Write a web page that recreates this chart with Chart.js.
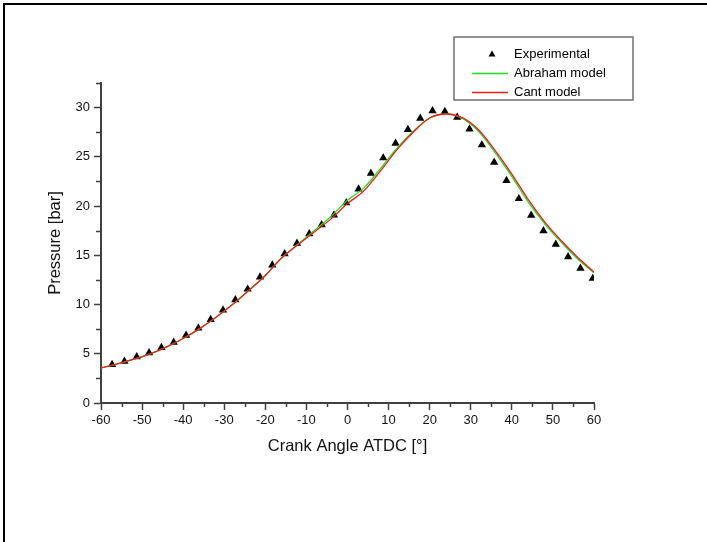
<!DOCTYPE html>
<html>
<head>
<meta charset="utf-8">
<title>Pressure vs Crank Angle</title>
<script src="https://cdn.jsdelivr.net/npm/chart.js@4.4.1/dist/chart.umd.min.js"></script>
<style>
  html, body { margin: 0; padding: 0; background: #fff; }
  #wrap { position: relative; width: 707px; height: 542px; overflow: hidden; }
  #pressureChart { position: absolute; left: 0; top: 0; }
  #frame {
    position: absolute; left: 3px; top: 3px; width: 800px; height: 600px;
    border-left: 2px solid #000; border-top: 2px solid #000; pointer-events: none;
  }
</style>
</head>
<body>
<div id="wrap">
  <canvas id="pressureChart" width="707" height="542"></canvas>
  <div id="frame"></div>
</div>
<script>
(function () {
    "use strict";

    // measured points (crank angle in deg, pressure in bar)
    var expAngle = [-57.3, -54.3, -51.3, -48.3, -45.3, -42.3, -39.3, -36.3, -33.3, -30.3,
                    -27.3, -24.3, -21.3, -18.3, -15.3, -12.3, -9.3, -6.3, -3.3, -0.3,
                    2.7, 5.7, 8.7, 11.7, 14.7, 17.7, 20.7, 23.7, 26.7, 29.7,
                    32.7, 35.7, 38.7, 41.7, 44.7, 47.7, 50.7, 53.7, 56.7, 59.7];
    var expPressure = [3.90, 4.24, 4.68, 5.09, 5.63, 6.17, 6.88, 7.60, 8.48, 9.43,
                       10.48, 11.56, 12.78, 14.00, 15.15, 16.21, 17.19, 18.10, 19.09, 20.34,
                       21.73, 23.33, 24.89, 26.38, 27.76, 28.92, 29.67, 29.59, 29.02, 27.83,
                       26.21, 24.45, 22.58, 20.75, 19.06, 17.49, 16.11, 14.85, 13.67, 12.65];

    // model curves
    var modelAngle = [-60, -56, -52, -48, -44, -40, -36, -32, -28, -24, -20, -16, -12, -8, -4, 0,
                      4, 8, 12, 16, 20, 24, 28, 32, 36, 40, 44, 48, 52, 56, 60];
    var abrahamPressure = [3.56, 3.97, 4.45, 5.0, 5.7, 6.55, 7.55, 8.7, 10.0, 11.45, 12.95, 14.75,
                           16.15, 17.55, 18.95, 20.6, 21.85, 23.8, 25.85, 27.6, 28.95, 29.35,
                           28.9, 27.55, 25.4, 23.0, 20.4, 18.2, 16.35, 14.65, 13.2];
    var cantPressure = [3.56, 3.97, 4.45, 5.0, 5.7, 6.55, 7.55, 8.7, 10.0, 11.45, 12.95, 14.75,
                        16.1, 17.4, 18.7, 20.25, 21.55, 23.55, 25.7, 27.5, 28.95, 29.35,
                        28.95, 27.7, 25.6, 23.25, 20.65, 18.4, 16.5, 14.8, 13.3];

    var seriesLabels = ["Experimental", "Abraham model", "Cant model"];
    var xTitle = "Crank Angle ATDC [\u00b0]";
    var yTitle = "Pressure [bar]";

    var FONT = "'Liberation Sans', Arial, sans-serif";
    var AXIS_COLOR = "#404040";

    function toPoints(xs, ys) {
        return xs.map(function (x, i) { return { x: x, y: ys[i] }; });
    }

    // short ticks between the labelled ones
    var minorTicks = {
        id: "minorTicks",
        afterDraw: function (chart) {
            var c = chart.ctx;
            var xs = chart.scales.x;
            var ys = chart.scales.y;
            c.save();
            c.strokeStyle = AXIS_COLOR;
            c.lineWidth = 1.5;
            xs.ticks.forEach(function (t) {
                if (t.value % 10 === 0) return;
                var px = Math.round(xs.getPixelForValue(t.value)) + 0.5;
                c.beginPath();
                c.moveTo(px, xs.top);
                c.lineTo(px, xs.top + 4);
                c.stroke();
            });
            ys.ticks.forEach(function (t) {
                if (t.value % 5 === 0) return;
                var py = Math.round(ys.getPixelForValue(t.value)) + 0.5;
                c.beginPath();
                c.moveTo(ys.right, py);
                c.lineTo(ys.right - 5, py);
                c.stroke();
            });
            c.restore();
        }
    };

    // boxed legend in the top right corner
    var boxedLegend = {
        id: "boxedLegend",
        afterDraw: function (chart) {
            var c = chart.ctx;
            var sets = chart.data.datasets;
            var left = 454, top = 37, right = 633, bottom = 100;
            var rows = [54, 73.5, 92.5];
            c.save();
            c.strokeStyle = "#707070";
            c.lineWidth = 1.5;
            c.strokeRect(left, top, right - left, bottom - top);

            c.font = "13px " + FONT;
            c.textBaseline = "middle";
            c.textAlign = "left";
            sets.forEach(function (ds, i) {
                var y = rows[i];
                if (ds.showLine) {
                    c.strokeStyle = ds.borderColor;
                    c.lineWidth = ds.borderWidth;
                    c.beginPath();
                    c.moveTo(472, y);
                    c.lineTo(508, y);
                    c.stroke();
                } else {
                    c.fillStyle = ds.backgroundColor;
                    c.beginPath();
                    c.moveTo(492, y - 3.5);
                    c.lineTo(495.5, y + 2.5);
                    c.lineTo(488.5, y + 2.5);
                    c.closePath();
                    c.fill();
                }
                c.fillStyle = "#000";
                c.fillText(ds.label, 514, y);
            });
            c.restore();
        }
    };

    function majorTickColor(step) {
        return function (ctx) {
            return ctx.tick && ctx.tick.value % step === 0 ? AXIS_COLOR : "transparent";
        };
    }

    var ctx = document.getElementById("pressureChart").getContext("2d");

    new Chart(ctx, {
        type: "scatter",
        data: {
            datasets: [
                {
                    label: seriesLabels[0],
                    data: toPoints(expAngle, expPressure),
                    showLine: false,
                    pointStyle: "triangle",
                    pointRadius: 4.8,
                    pointBorderWidth: 0,
                    backgroundColor: "#000000",
                    borderColor: "#000000",
                    order: 3
                },
                {
                    label: seriesLabels[1],
                    data: toPoints(modelAngle, abrahamPressure),
                    showLine: true,
                    borderColor: "#1fe01f",
                    backgroundColor: "#1fe01f",
                    borderWidth: 1.3,
                    pointRadius: 0,
                    cubicInterpolationMode: "monotone",
                    order: 2
                },
                {
                    label: seriesLabels[2],
                    data: toPoints(modelAngle, cantPressure),
                    showLine: true,
                    borderColor: "#ee1c1c",
                    backgroundColor: "#ee1c1c",
                    borderWidth: 1.3,
                    pointRadius: 0,
                    cubicInterpolationMode: "monotone",
                    order: 1
                }
            ]
        },
        options: {
            responsive: false,
            animation: false,
            devicePixelRatio: 1,
            layout: { padding: { left: 0, top: 83, right: 113, bottom: 0 } },
            plugins: {
                legend: { display: false },
                tooltip: { enabled: false }
            },
            scales: {
                x: {
                    type: "linear",
                    min: -60,
                    max: 60,
                    afterFit: function (scale) { scale.height = 139; },
                    border: { color: AXIS_COLOR, width: 2 },
                    grid: {
                        drawOnChartArea: false,
                        tickLength: 7,
                        tickWidth: 1.5,
                        tickColor: majorTickColor(10)
                    },
                    ticks: {
                        stepSize: 5,
                        autoSkip: false,
                        maxRotation: 0,
                        padding: 3,
                        color: "#111",
                        font: { family: FONT, size: 13 },
                        callback: function (v) { return v % 10 === 0 ? String(v) : ""; }
                    },
                    title: {
                        display: true,
                        text: xTitle,
                        color: "#111",
                        font: { family: FONT, size: 16.5 },
                        padding: { top: 0, bottom: 86 }
                    }
                },
                y: {
                    type: "linear",
                    min: 0,
                    max: 32.5,
                    afterFit: function (scale) { scale.width = 101; },
                    border: { color: AXIS_COLOR, width: 2 },
                    grid: {
                        drawOnChartArea: false,
                        tickLength: 7,
                        tickWidth: 1.5,
                        tickColor: majorTickColor(5)
                    },
                    ticks: {
                        stepSize: 2.5,
                        autoSkip: false,
                        padding: 4,
                        color: "#111",
                        font: { family: FONT, size: 13 },
                        callback: function (v) { return v % 5 === 0 ? String(v) : ""; }
                    },
                    title: {
                        display: true,
                        text: yTitle,
                        color: "#111",
                        font: { family: FONT, size: 16.5 },
                        padding: { top: 46, bottom: 0 }
                    }
                }
            }
        },
        plugins: [minorTicks, boxedLegend]
    });
})();
</script>
</body>
</html>
